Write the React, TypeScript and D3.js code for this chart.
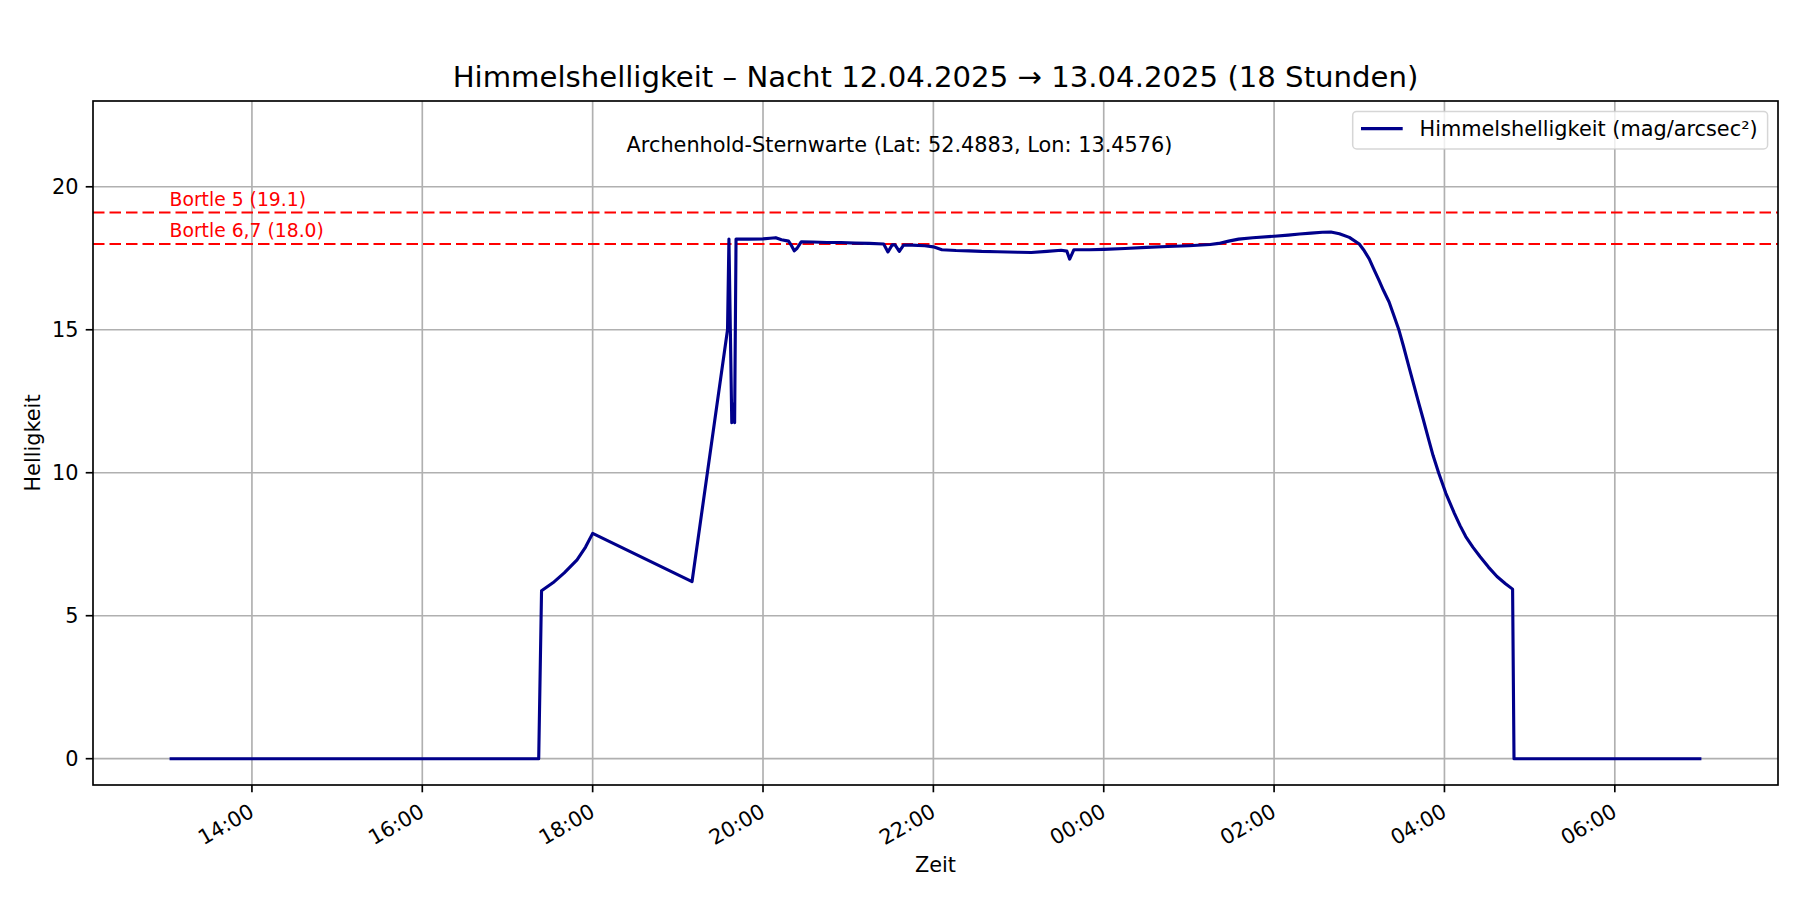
import React from "react";
import * as d3 from "d3";

// ---- data ----
const timeStamps: string[] = [
  "2025-04-12 13:02", "2025-04-12 17:22", "2025-04-12 17:24", "2025-04-12 17:32",
  "2025-04-12 17:40", "2025-04-12 17:49", "2025-04-12 17:55", "2025-04-12 18:00",
  "2025-04-12 19:10", "2025-04-12 19:35", "2025-04-12 19:36", "2025-04-12 19:38",
  "2025-04-12 19:39", "2025-04-12 19:40", "2025-04-12 19:41", "2025-04-12 19:50",
  "2025-04-12 20:00", "2025-04-12 20:05", "2025-04-12 20:09", "2025-04-12 20:13",
  "2025-04-12 20:18", "2025-04-12 20:20", "2025-04-12 20:22", "2025-04-12 20:24",
  "2025-04-12 20:27", "2025-04-12 20:35", "2025-04-12 20:45", "2025-04-12 20:55",
  "2025-04-12 21:05", "2025-04-12 21:15", "2025-04-12 21:25", "2025-04-12 21:28",
  "2025-04-12 21:31", "2025-04-12 21:33", "2025-04-12 21:36", "2025-04-12 21:39",
  "2025-04-12 21:45", "2025-04-12 21:54", "2025-04-12 22:00", "2025-04-12 22:06",
  "2025-04-12 22:16", "2025-04-12 22:25", "2025-04-12 22:34", "2025-04-12 22:45",
  "2025-04-12 23:00", "2025-04-12 23:09", "2025-04-12 23:20", "2025-04-12 23:30",
  "2025-04-12 23:34", "2025-04-12 23:36", "2025-04-12 23:39", "2025-04-12 23:50",
  "2025-04-13 00:00", "2025-04-13 00:15", "2025-04-13 00:30", "2025-04-13 00:45",
  "2025-04-13 01:00", "2025-04-13 01:15", "2025-04-13 01:21", "2025-04-13 01:28",
  "2025-04-13 01:35", "2025-04-13 01:45", "2025-04-13 02:00", "2025-04-13 02:10",
  "2025-04-13 02:18", "2025-04-13 02:26", "2025-04-13 02:34", "2025-04-13 02:40",
  "2025-04-13 02:46", "2025-04-13 02:53", "2025-04-13 03:00", "2025-04-13 03:03",
  "2025-04-13 03:07", "2025-04-13 03:10", "2025-04-13 03:14", "2025-04-13 03:17",
  "2025-04-13 03:21", "2025-04-13 03:24", "2025-04-13 03:28", "2025-04-13 03:31",
  "2025-04-13 03:35", "2025-04-13 03:38", "2025-04-13 03:42", "2025-04-13 03:45",
  "2025-04-13 03:49", "2025-04-13 03:52", "2025-04-13 03:56", "2025-04-13 04:01",
  "2025-04-13 04:07", "2025-04-13 04:11", "2025-04-13 04:15", "2025-04-13 04:20",
  "2025-04-13 04:25", "2025-04-13 04:31", "2025-04-13 04:37", "2025-04-13 04:43",
  "2025-04-13 04:48", "2025-04-13 04:49", "2025-04-13 07:01",
];

const brightness: number[] = [
  0, 0, 5.87, 6.15,
  6.5, 6.95, 7.4, 7.88,
  6.19, 15.0, 18.17, 11.75,
  12.4, 11.75, 18.17, 18.17,
  18.18, 18.2, 18.22, 18.15,
  18.1, 17.95, 17.76, 17.85,
  18.08, 18.07, 18.05, 18.05,
  18.03, 18.02, 18.0, 17.72,
  17.97, 17.97, 17.74, 17.96,
  17.96, 17.94, 17.9, 17.8,
  17.77, 17.76, 17.74, 17.73,
  17.71, 17.7, 17.74, 17.78,
  17.75, 17.47, 17.8, 17.8,
  17.81, 17.84, 17.88, 17.91,
  17.94, 17.98, 18.02, 18.1,
  18.17, 18.22, 18.27, 18.31,
  18.35, 18.38, 18.41, 18.42,
  18.36, 18.23, 18.0, 17.8,
  17.48, 17.15, 16.72, 16.38,
  15.97, 15.55, 14.98, 14.45,
  13.7, 13.15, 12.42, 11.88,
  11.14, 10.6, 9.98, 9.28,
  8.58, 8.15, 7.77, 7.4,
  7.07, 6.7, 6.37, 6.12,
  5.93, 0, 0,
];

const yTicks: number[] = [0, 5, 10, 15, 20];
const bortleLevels: number[] = [19.1, 18.0];
const bortleLabels: string[] = ["Bortle 5 (19.1)", "Bortle 6,7 (18.0)"];

const titleText = "Himmelshelligkeit – Nacht 12.04.2025 → 13.04.2025 (18 Stunden)";
const subtitleText = "Archenhold-Sternwarte (Lat: 52.4883, Lon: 13.4576)";
const legendLabel = "Himmelshelligkeit (mag/arcsec²)";
const xLabel = "Zeit";
const yLabel = "Helligkeit";

export default function App() {
  const W = 1800;
  const H = 900;
  const L = 93, R = 1778, T = 101, B = 785;
  const FS = 20.83;
  const font = "'DejaVu Sans', sans-serif";

  const parse = d3.timeParse("%Y-%m-%d %H:%M");
  const dates = timeStamps.map((s) => parse(s) as Date);
  const t0 = dates[0].getTime();
  const t1 = dates[dates.length - 1].getTime();
  const span = t1 - t0;
  const x = d3
    .scaleTime()
    .domain([new Date(t0 - 0.05 * span), new Date(t1 + 0.05 * span)])
    .range([L, R]);
  const y = d3.scaleLinear().domain([-0.92, 23]).range([B, T]);

  const xTicks = d3.timeHour.every(2)!.range(x.domain()[0], x.domain()[1]);
  const fmt = d3.timeFormat("%H:%M");

  const pts: [Date, number][] = dates.map((d, i) => [d, brightness[i]]);
  const line = d3
    .line<[Date, number]>()
    .x((d) => x(d[0]))
    .y((d) => y(d[1]));

  const tickLen = 7.29;
  const gridColor = "#b0b0b0";

  return (
    <svg
      width={W}
      height={H}
      style={{ position: "absolute", left: 0, top: 0, background: "#fff" }}
      fontFamily={font}
    >
      <rect x={0} y={0} width={W} height={H} fill="#fff" />
      <defs>
        <clipPath id="plotClip">
          <rect x={L} y={T} width={R - L} height={B - T} />
        </clipPath>
      </defs>

      {/* grid */}
      <g stroke={gridColor} strokeWidth={1.67}>
        {xTicks.map((t, i) => (
          <line key={"gx" + i} x1={x(t)} x2={x(t)} y1={T} y2={B} />
        ))}
        {yTicks.map((v, i) => (
          <line key={"gy" + i} x1={L} x2={R} y1={y(v)} y2={y(v)} />
        ))}
      </g>

      {/* bortle lines + data line */}
      <g clipPath="url(#plotClip)">
        {bortleLevels.map((v, i) => (
          <line
            key={"bl" + i}
            x1={L}
            x2={R}
            y1={y(v)}
            y2={y(v)}
            stroke="#ff0000"
            strokeWidth={2.1}
            strokeDasharray="11.5 5"
          />
        ))}
        <path
          d={line(pts) || ""}
          fill="none"
          stroke="#00008b"
          strokeWidth={3.125}
          strokeLinejoin="round"
          strokeLinecap="butt"
        />
      </g>

      {/* bortle labels */}
      {bortleLevels.map((v, i) => (
        <text
          key={"bt" + i}
          x={x(dates[0])}
          y={y(v) - 6.5}
          fill="#ff0000"
          fontSize={18.75}
        >
          {bortleLabels[i]}
        </text>
      ))}

      {/* location text */}
      <text x={899.5} y={152} fontSize={FS} textAnchor="middle" fill="#000">
        {subtitleText}
      </text>

      {/* legend */}
      <g>
        <rect
          x={1352.7}
          y={111.4}
          width={1767.6 - 1352.7}
          height={37.5}
          rx={4}
          ry={4}
          fill="#fff"
          fillOpacity={0.8}
          stroke="#cccccc"
          strokeOpacity={0.8}
          strokeWidth={1.5}
        />
        <line x1={1361} x2={1402.7} y1={128.6} y2={128.6} stroke="#00008b" strokeWidth={3.125} />
        <text x={1419.5} y={135.8} fontSize={FS} fill="#000">
          {legendLabel}
        </text>
      </g>

      {/* spines */}
      <rect x={L} y={T} width={R - L} height={B - T} fill="none" stroke="#000" strokeWidth={1.67} />

      {/* y axis ticks */}
      {yTicks.map((v, i) => (
        <g key={"yt" + i}>
          <line x1={L - tickLen} x2={L} y1={y(v)} y2={y(v)} stroke="#000" strokeWidth={1.67} />
          <text x={L - tickLen - 7.29} y={y(v)} dy="0.36em" fontSize={FS} textAnchor="end" fill="#000">
            {v}
          </text>
        </g>
      ))}

      {/* x axis ticks */}
      {xTicks.map((t, i) => {
        const px = x(t);
        const ax = px + 3.5;
        const ay = 815.5;
        return (
          <g key={"xt" + i}>
            <line x1={px} x2={px} y1={B} y2={B + tickLen} stroke="#000" strokeWidth={1.67} />
            <text
              x={ax}
              y={ay}
              fontSize={FS}
              textAnchor="end"
              transform={`rotate(-30 ${ax} ${ay})`}
              fill="#000"
            >
              {fmt(t)}
            </text>
          </g>
        );
      })}

      {/* axis labels */}
      <text x={(L + R) / 2} y={872} fontSize={FS} textAnchor="middle" fill="#000">
        {xLabel}
      </text>
      <text
        x={40}
        y={(T + B) / 2}
        fontSize={FS}
        textAnchor="middle"
        transform={`rotate(-90 40 ${(T + B) / 2})`}
        fill="#000"
      >
        {yLabel}
      </text>

      {/* title */}
      <text x={(L + R) / 2} y={87} fontSize={29.17} textAnchor="middle" fill="#000">
        {titleText}
      </text>
    </svg>
  );
}
